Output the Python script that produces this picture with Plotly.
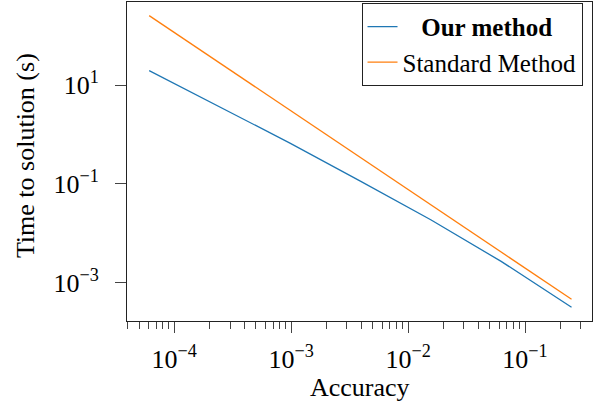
import plotly.graph_objects as go

# Data
accuracy = [4**-7, 4**-6, 4**-5, 4**-4, 4**-3, 4**-2, 4**-1]
our_method = [19.5, 3.58, 0.667, 0.113, 0.0187, 0.00269, 0.000318]
standard_method = [254, 28.1, 3.10, 0.342, 0.0378, 0.00417, 0.00046]

x_tickvals = [1e-4, 1e-3, 1e-2, 1e-1]
x_ticktext = ["10<sup>\u22124</sup>", "10<sup>\u22123</sup>", "10<sup>\u22122</sup>", "10<sup>\u22121</sup>"]
y_tickvals = [10, 0.1, 0.001]
y_ticktext = ["10<sup>1</sup>", "10<sup>\u22121</sup>", "10<sup>\u22123</sup>"]
x_minor = [m * 10**e for e in range(-5, 0) for m in range(2, 10) if 3.9e-5 < m * 10**e < 0.38]

x_title = "Accuracy"
y_title = "Time to solution (s)"

FONT = "Liberation Serif, Times New Roman, serif"
FS = 26

fig = go.Figure()
fig.add_trace(go.Scatter(x=accuracy, y=our_method, mode="lines",
                         name="&nbsp;&nbsp;&nbsp;<b>Our method</b>",
                         line=dict(color="#1f77b4", width=1.3)))
fig.add_trace(go.Scatter(x=accuracy, y=standard_method, mode="lines",
                         name="Standard Method",
                         line=dict(color="#ff7f0e", width=1.3)))

fig.update_layout(
    width=595, height=407,
    margin=dict(l=127, r=3, t=2, b=86),
    paper_bgcolor="white", plot_bgcolor="white",
    font=dict(family=FONT, size=FS, color="black"),
    showlegend=True,
    legend=dict(x=0.9796, y=0.997, xanchor="right", yanchor="top",
                bordercolor="#222", borderwidth=1, bgcolor="white",
                font=dict(family=FONT, size=25), tracegroupgap=0),
)
fig.update_xaxes(
    type="log", range=[-4.404, -0.427],
    tickmode="array", tickvals=x_tickvals, ticktext=x_ticktext,
    ticks="outside", ticklen=11, tickcolor="#444", tickwidth=1,
    ticklabelstandoff=4,
    minor=dict(tickmode="array", tickvals=x_minor, ticks="outside", ticklen=7, tickcolor="#444", showgrid=False),
    showline=True, linecolor="#222", linewidth=1, mirror=True,
    showgrid=False, zeroline=False,
)
fig.update_yaxes(
    type="log", range=[-3.777, 2.68],
    tickmode="array", tickvals=y_tickvals, ticktext=y_ticktext,
    ticks="outside", ticklen=11, tickcolor="#444", tickwidth=1,
    ticklabelstandoff=11,
    showline=True, linecolor="#222", linewidth=1, mirror=True,
    showgrid=False, zeroline=False,
)

# Axis titles as annotations (placed in paper coordinates)
fig.add_annotation(text=x_title, xref="paper", yref="paper", x=0.5, y=-0.21,
                   xanchor="center", yanchor="middle", showarrow=False,
                   font=dict(family=FONT, size=FS, color="black"))
fig.add_annotation(text=y_title, xref="paper", yref="paper", x=-0.2194, y=0.52,
                   xanchor="center", yanchor="middle", showarrow=False, textangle=-90,
                   font=dict(family=FONT, size=FS, color="black"))

fig.write_html("out.html",
               config={"displayModeBar": False},
               post_script="document.body.style.margin='0';document.body.style.padding='0';")
